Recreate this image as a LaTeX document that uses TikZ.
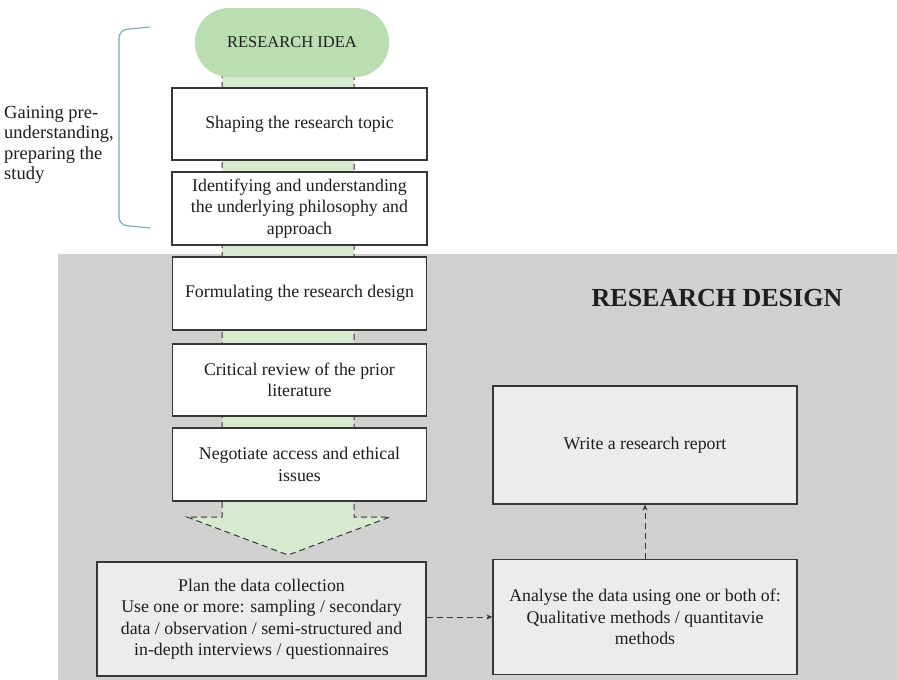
\documentclass[tikz,border=0pt]{standalone}
\usepackage{fontspec}
\setmainfont{Liberation Serif}
\usetikzlibrary{arrows.meta}
\definecolor{bandgray}{RGB}{208,208,207}
\definecolor{boxgray}{RGB}{236,236,235}
\definecolor{pillgreen}{RGB}{186,221,178}
\definecolor{stripgreen}{RGB}{214,234,208}
\definecolor{edge}{RGB}{55,55,55}
\definecolor{inkcol}{RGB}{30,30,30}
\definecolor{bracketblue}{RGB}{125,163,182}

\begin{document}
\begin{tikzpicture}[x=1pt,y=-1pt,
  txt/.style={font=\fontsize{17.8}{21.5}\selectfont, text=inkcol},
  stepbox/.style={txt, draw=edge, line width=1.2pt, fill=white, align=center,
    inner sep=0pt, minimum width=254pt, minimum height=72pt},
  graybox/.style={stepbox, fill=boxgray},
  conn/.style={draw=edge, line width=1pt, dash pattern=on 6pt off 4pt,
    -{Stealth[length=6pt,width=5pt]}},
  outline/.style={draw=edge, line width=1pt, dash pattern=on 6pt off 4pt}
]
% page frame
\useasboundingbox (0,0) rectangle (897,680);
\fill[white] (0,0) rectangle (897,680);

% shaded research design area
\fill[bandgray] (58,254) rectangle (897,680);

% broad green flow arrow behind the steps
\coordinate (sl) at (222,62);
\coordinate (sr) at (354,62);
\coordinate (hl) at (222,517);
\coordinate (hr) at (354,517);
\coordinate (wl) at (187,517);
\coordinate (wr) at (390,517);
\coordinate (tip) at (288,555);
\fill[stripgreen] (sl) -- (hl) -- (wl) -- (tip) -- (wr) -- (hr) -- (sr) -- cycle;
\draw[outline] (sl) -- (hl) -- (wl) -- (tip) -- (wr) -- (hr) -- (sr);

% start of the process
\node[txt, font=\fontsize{16.5}{20}\selectfont, fill=pillgreen, rounded corners=34pt,
  minimum width=194pt, minimum height=69pt, inner sep=0pt] (idea) at (292,42.5) {RESEARCH IDEA};

% sequence of steps
\node[stepbox, minimum width=255pt] (shape) at (299.5,124) {Shaping the research topic};
\node[stepbox, minimum width=255pt, minimum height=73pt] (ident) at (299.5,208.5)
  {Identifying and understanding\\the underlying philosophy and\\approach};
\node[stepbox, minimum height=73pt] (formul) at (299.5,293.5) {Formulating the research design};
\node[stepbox] (crit) at (299.5,380) {Critical review of the prior\\literature};
\node[stepbox, minimum height=73pt] (nego) at (299.5,464.5) {Negotiate access and ethical\\issues};

\node[graybox, minimum width=329pt, minimum height=114pt] (plan) at (261.5,619)
  {Plan the data collection\\Use one or more: sampling / secondary\\data / observation / semi-structured and\\in-depth interviews / questionnaires};
\node[graybox, minimum width=304pt, minimum height=115pt] (analyse) at (645,617)
  {Analyse the data using one or both of:\\Qualitative methods / quantitavie\\methods};
\node[graybox, minimum width=304pt, minimum height=118pt] (write) at (645,445)
  {Write a research report};

\node[font=\fontsize{26}{30}\selectfont\bfseries, text=inkcol] (design) at (717,298) {RESEARCH DESIGN};

% preparation phase bracket and label
\coordinate (bt) at (150,27);
\coordinate (bb) at (150,228);
\draw[bracketblue, line width=1.1pt, rounded corners=8pt]
  (bt) -- (119,30) -- (119,225) -- (bb);
\node[txt, font=\fontsize{18.5}{20.5}\selectfont, anchor=west, align=left, inner sep=0pt]
  (prep) at (4,145) {Gaining pre-\\understanding,\\preparing the\\study};

% links between the later steps
\draw[conn] (plan.east |- analyse.west) -- (analyse.west);
\draw[conn] (analyse.north) -- (write.south);
\end{tikzpicture}
\end{document}
